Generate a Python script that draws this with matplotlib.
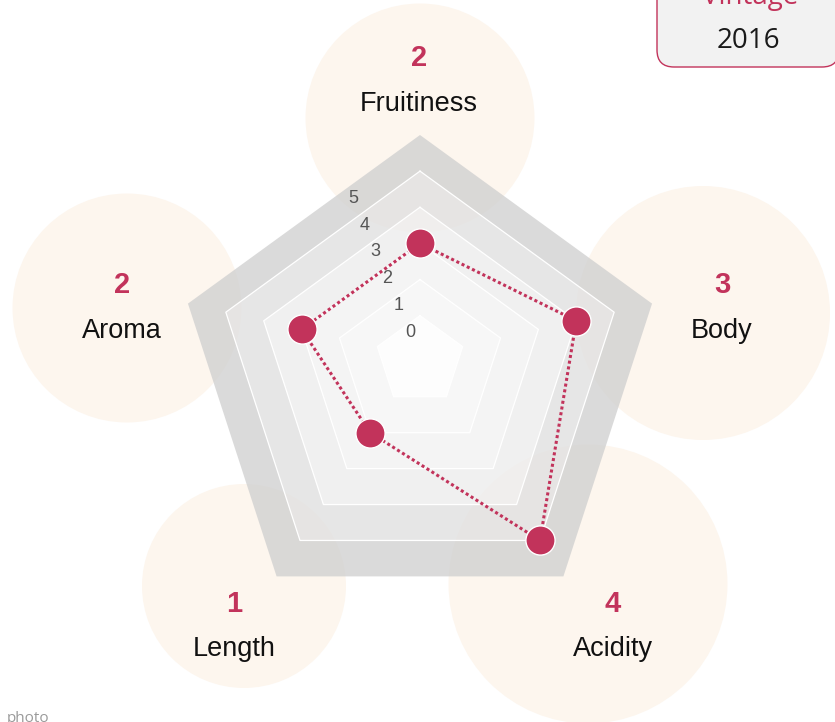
import matplotlib.pyplot as plt
import numpy as np
from matplotlib.patches import Circle, FancyBboxPatch, PathPatch
from matplotlib.path import Path

# tasting profile
categories = ['Fruitiness', 'Body', 'Acidity', 'Length', 'Aroma']
scores = [2, 3, 4, 1, 2]
levels = [0, 1, 2, 3, 4, 5]
vintage = '2016'

W, H = 835, 722
CRIMSON = '#c2335b'
PX = 244 / 6.125          # pixels per score unit
OFFSET = 1.125            # level 0 sits a bit away from the centre
LIFT = 0.093              # inner rings rise slightly (stacked look)

# layout (pixels, y down)
label_pos = {'Fruitiness': (419, 111), 'Body': (722, 337.5), 'Acidity': (613, 656),
             'Length': (234, 656), 'Aroma': (122, 337.5)}
bubble_pos = {'Fruitiness': (420, 118), 'Body': (703, 313), 'Acidity': (588, 584),
              'Length': (244, 586), 'Aroma': (127, 308)}

fig = plt.figure(figsize=(8.35, 7.22), dpi=100)

bg = fig.add_axes([0, 0, 1, 1])
bg.set_xlim(0, W)
bg.set_ylim(H, 0)
bg.axis('off')

for cat, sc in zip(categories, scores):
    bx, by = bubble_pos[cat]
    bg.add_patch(Circle((bx, by), 89.5 + 12.5 * sc, color='#fdf6ee', lw=0))
    lx, ly = label_pos[cat]
    bg.text(lx, ly, cat, ha='center', va='baseline', fontsize=19.5,
            family='Liberation Sans', color='#111111')
    bg.text(lx, ly - 44.5, str(sc), ha='center', va='baseline', fontsize=21,
            family='Liberation Sans', fontweight='bold', color=CRIMSON)

# vintage box, cut by the top/right edge as in the original
bg.add_patch(FancyBboxPatch((674, -23), 148, 73, boxstyle='round,pad=17,rounding_size=17',
                            mutation_scale=1, fc='#f2f2f2', ec=CRIMSON, lw=1))
bg.text(750, 4, 'Vintage', ha='center', va='baseline', fontsize=20,
        family='Open Sans', color=CRIMSON)
bg.text(748, 48.5, vintage, ha='center', va='baseline', fontsize=20,
        family='Open Sans', color='#1a1a1a')
bg.text(49, 722, 'photo', ha='right', va='baseline', fontsize=11,
        family='Open Sans', color='#9a9a9a')

# radar
ax = fig.add_axes([0, 0, 1, 1], zorder=1)
ax.patch.set_alpha(0)
ax.axis('off')
ax.set_xlim(-420 / PX, (W - 420) / PX)
ax.set_ylim(-(H - 379) / PX, 379 / PX)

theta = np.arange(len(categories)) * 2 * np.pi / len(categories)


def ring(level):
    r = level + OFFSET
    return np.column_stack([r * np.sin(theta), r * np.cos(theta) + LIFT * (5 - level)])


def closed(v):
    return np.vstack([v, v[:1]])


band_colors = ['#fdfdfd', '#f6f6f6', '#f2f2f2', '#ededed', '#e0e0e0', '#d0d0d0']
for lv in levels[::-1]:
    outer = Path(closed(ring(lv)), closed=True)
    if lv > 0:
        inner = Path(closed(ring(lv - 1)[::-1]), closed=True)
        path = Path.make_compound_path(outer, inner)
    else:
        path = outer
    ax.add_patch(PathPatch(path, fc=band_colors[lv], ec='none', alpha=0.78, zorder=1))

for lv in levels[:-1]:
    v = closed(ring(lv))
    ax.plot(v[:, 0], v[:, 1], color='white', lw=0.9, zorder=2)

s = np.array(scores, dtype=float)
xs = (s + OFFSET) * np.sin(theta)
ys = (s + OFFSET) * np.cos(theta) + LIFT * (5 - s)
ax.plot(np.append(xs, xs[0]), np.append(ys, ys[0]), color=CRIMSON, lw=2.2,
        ls=(0, (1, 0.9)), dash_capstyle='butt', zorder=3)
ax.plot(xs, ys, 'o', ms=21, mfc=CRIMSON, mec='white', mew=1, zorder=4)

for lv in levels:
    ax.text(410 - 11.4 * lv, 332.7 - 26.9 * lv, str(lv), transform=bg.transData,
            ha='center', va='center', fontsize=13, family='Liberation Sans',
            color='#555555', zorder=5)

fig.savefig('out.png', dpi=100)
